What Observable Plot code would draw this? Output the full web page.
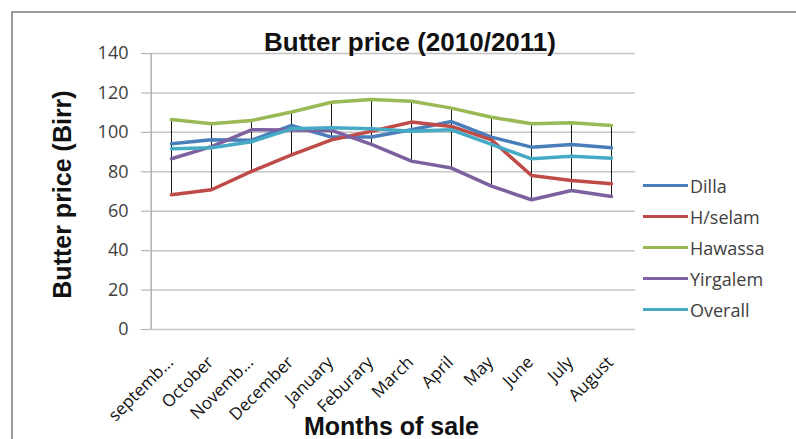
<!DOCTYPE html>
<html>
<head>
<meta charset="utf-8">
<script src="https://cdn.jsdelivr.net/npm/d3@7"></script>
<script src="https://cdn.jsdelivr.net/npm/@observablehq/plot@0.6"></script>
<style>
  html, body { margin: 0; padding: 0; background: #fff; }
  #chart { position: relative; width: 796px; height: 439px; overflow: hidden; font-family: "Open Sans", "Liberation Sans", sans-serif; }
  #frame { position: absolute; left: 11px; top: 11px; width: 800px; height: 440px; border: 2px solid #9a9a9a; box-sizing: border-box; }
  #title { position: absolute; left: 210px; width: 400px; top: 27px; line-height: 30px; text-align: center; font: bold 26px "Liberation Sans", Arial, sans-serif; color: #111; white-space: nowrap; }
  #legend { position: absolute; left: 643px; top: 170px; font-size: 18px; color: #404040; }
  #legend .item { display: flex; align-items: center; height: 31px; }
  #legend .swatch { width: 45px; height: 3.5px; margin-right: 2px; }
  svg { position: absolute; left: 0; top: 0; }
</style>
</head>
<body>
<div id="chart">
  <div id="frame"></div>
</div>
<script>
// Months of sale (tick labels as printed on the axis)
const months = ["septemb...", "October", "Novemb...", "December", "January", "Feburary",
                "March", "April", "May", "June", "July", "August"];

// Butter price (Birr) by market
const dilla    = [94.2, 96.2, 96.0, 103.5, 97.6, 97.6, 101.3, 105.5, 97.6, 92.5, 93.9, 92.2];
const hselam   = [68.3, 70.9, 80.2, 88.6, 96.2, 100.6, 105.2, 103.0, 96.2, 78.1, 75.6, 73.9];
const hawassa  = [106.5, 104.4, 106.0, 110.3, 115.3, 116.7, 115.8, 112.3, 107.7, 104.4, 104.9, 103.5];
const yirgalem = [86.6, 92.8, 101.3, 101.2, 101.0, 93.9, 85.4, 81.9, 72.7, 65.8, 70.5, 67.5];
const overall  = [91.7, 92.2, 95.2, 101.8, 102.3, 101.8, 100.5, 101.3, 93.9, 86.6, 87.9, 86.9];

const seriesNames = ["Dilla", "H/selam", "Hawassa", "Yirgalem", "Overall"];
const seriesValues = [dilla, hselam, hawassa, yirgalem, overall];
const seriesColors = ["#4a7ebb", "#be4b48", "#98b954", "#7d60a0", "#46aac5"];

const yTicks = [0, 20, 40, 60, 80, 100, 120, 140];

// Long-format table for the line marks
const rows = seriesNames.flatMap((name, s) =>
  months.map((month, i) => ({series: name, month, price: seriesValues[s][i]})));

// High-low range for each month across all markets
const ranges = months.map((month, i) => {
  const vals = seriesValues.map(v => v[i]);
  return {month, lo: d3.min(vals), hi: d3.max(vals)};
});

const plot = Plot.plot({
  width: 796,
  height: 439,
  marginLeft: 147,
  marginRight: 161,
  marginTop: 53,
  marginBottom: 110,
  style: {background: "transparent", fontFamily: "'Open Sans', sans-serif", overflow: "visible"},
  x: {type: "point", domain: months, padding: 0.5, axis: null},
  y: {domain: [0, 140], axis: null},
  color: {domain: seriesNames, range: seriesColors},
  marks: [
    Plot.ruleY(yTicks, {stroke: "#c4c4c4", strokeWidth: 1.5}),
    // vertical value axis line at the left edge of the first category band
    Plot.ruleX([months[0]], {y1: 0, y2: 140, stroke: "#b0b0b0", strokeWidth: 1.5, dx: -20.3}),
    Plot.axisY(yTicks, {
      tickSize: 6, tickPadding: 13, fontSize: 18, stroke: "#a8a8a8",
      color: "#404040", label: null
    }),
    Plot.axisX({
      tickSize: 0, tickRotate: -45, fontSize: 17, label: null,
      tickPadding: 4, dx: -1, dy: 26, color: "#111"
    }),
    Plot.text(["Butter price (Birr)"], {
      frameAnchor: "left", textAnchor: "middle", rotate: -90, dx: -85, dy: 3,
      fontSize: 25, fontWeight: "bold",
      fill: "#111", fontFamily: "'Liberation Sans', Arial, sans-serif"
    }),
    Plot.text(["Months of sale"], {
      frameAnchor: "bottom", dy: 105, fontSize: 25, fontWeight: "bold",
      fill: "#111", fontFamily: "'Liberation Sans', Arial, sans-serif"
    }),
    Plot.ruleX(ranges, {x: "month", y1: "lo", y2: "hi", stroke: "#1a1a1a", strokeWidth: 1}),
    Plot.line(rows, {x: "month", y: "price", z: "series", stroke: "series", strokeWidth: 3.5})
  ]
});

const chart = document.getElementById("chart");
chart.appendChild(plot);

const title = document.createElement("div");
title.id = "title";
title.textContent = "Butter price (2010/2011)";
chart.appendChild(title);

const legend = document.createElement("div");
legend.id = "legend";
seriesNames.forEach((name, s) => {
  const item = document.createElement("div");
  item.className = "item";
  const sw = document.createElement("span");
  sw.className = "swatch";
  sw.style.background = seriesColors[s];
  const label = document.createElement("span");
  label.textContent = name;
  item.appendChild(sw);
  item.appendChild(label);
  legend.appendChild(item);
});
chart.appendChild(legend);
</script>
</body>
</html>
